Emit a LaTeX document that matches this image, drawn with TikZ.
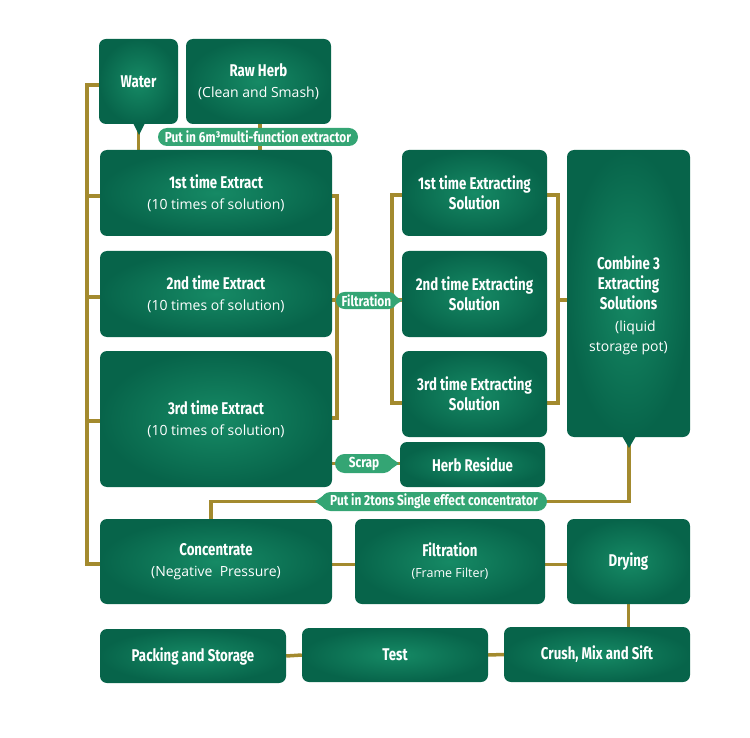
\documentclass[tikz,border=0pt]{standalone}
\usepackage{fontspec}
\setmainfont{Open Sans}
\newfontfamily\condb[FakeStretch=0.78]{Fira Sans}
\newfontfamily\condl[FakeStretch=0.82]{Fira Sans}
\usetikzlibrary{shapes.misc,backgrounds}
\definecolor{gdark}{HTML}{07644A}
\definecolor{glight}{HTML}{168A65}
\definecolor{labg}{HTML}{34A574}
\definecolor{gold}{HTML}{A38A2E}
\newcommand\Ttl{\condb\bfseries\fontsize{17}{20}\selectfont}
\newcommand\Sbt{\mdseries\fontsize{14}{21}\selectfont}
\tikzset{
 box/.style={rounded corners=7pt, inner color=glight, outer color=gdark, text=white, align=center, inner sep=0pt, font=\fontsize{16}{21}\selectfont},
 conn/.style={draw=gold, line width=3.5pt},
 lbl/.style={rounded rectangle, fill=labg, text=white, font=\condl\bfseries\fontsize{14.5}{16}\selectfont, inner sep=0pt, minimum height=18pt},
 tipf/.style={fill=labg},
 ptr/.style={fill=gdark},
}
\begin{document}
\begin{tikzpicture}[x=1pt,y=-1pt]
\useasboundingbox (0,0) rectangle (750,738);
% boxes
\node[box, minimum width=79pt, minimum height=85pt] (water) at (138.5,81.5) {\Ttl Water};
\node[box, minimum width=145pt, minimum height=85pt] (raw) at (258.5,81.5) {\Ttl Raw Herb\\\Sbt (Clean and Smash)};
\node[box, minimum width=232pt, minimum height=86pt] (e1) at (216,193) {\Ttl 1st time Extract\\\Sbt (10 times of solution)};
\node[box, minimum width=232pt, minimum height=86pt] (e2) at (216,294) {\Ttl 2nd time Extract\\\Sbt (10 times of solution)};
\node[box, minimum width=232pt, minimum height=136pt] (e3) at (216,419) {\Ttl 3rd time Extract\\\Sbt (10 times of solution)};
\node[box, minimum width=145pt, minimum height=86pt, font=\fontsize{16}{20}\selectfont] (s1) at (474.5,193) {\Ttl 1st time Extracting\\\Ttl Solution};
\node[box, minimum width=145pt, minimum height=86pt, font=\fontsize{16}{20}\selectfont] (s2) at (474.5,294) {\Ttl 2nd time Extracting\\\Ttl Solution};
\node[box, minimum width=145pt, minimum height=86pt, font=\fontsize{16}{20}\selectfont] (s3) at (474.5,394) {\Ttl 3rd time Extracting\\\Ttl Solution};
\node[box, minimum width=123pt, minimum height=287pt] (comb) at (628.5,293.5) {};
\node[text=white, align=center, inner sep=0pt, font=\fontsize{16}{20}\selectfont] (combt) at (628.5,305) {\Ttl Combine 3\\\Ttl Extracting\\\Ttl Solutions\\[2pt]\Sbt\quad(liquid\\\Sbt storage pot)};
\node[box, minimum width=145pt, minimum height=45pt] (res) at (472.5,464.5) {\Ttl Herb Residue};
\node[box, minimum width=232pt, minimum height=85pt] (conc) at (216,561.5) {\Ttl Concentrate\\\Sbt (Negative~~Pressure)};
\node[box, minimum width=190pt, minimum height=85pt] (filt) at (450,561.5) {\Ttl Filtration\\\Sbt\fontsize{12.5}{18}\selectfont (Frame Filter)};
\node[box, minimum width=123pt, minimum height=85pt] (dry) at (628.5,561.5) {\Ttl Drying};
\node[box, minimum width=186pt, minimum height=54pt] (pack) at (193,656) {\Ttl Packing and Storage};
\node[box, minimum width=186pt, minimum height=54pt] (test) at (395,655) {\Ttl Test};
\node[box, minimum width=186pt, minimum height=55pt] (crush) at (597,654.5) {\Ttl Crush, Mix and Sift};
% pointers
\fill[ptr] (133,123) -- (145,123) -- (139,135) -- cycle;
\fill[ptr] (622,436) -- (636,436) -- (629,448) -- cycle;
% labels
\node[lbl, minimum width=200pt] (put1) at (258,137) {Put in 6m³multi-function extractor};
\fill[tipf] (391,293) -- (402,300.5) -- (391,308) -- cycle;
\node[lbl, minimum width=61pt, minimum height=17pt] (flt) at (366.5,300.5) {Filtration};
\fill[tipf] (387,455) -- (399,463.5) -- (387,472) -- cycle;
\node[lbl, minimum width=58pt, minimum height=19pt] (scrap) at (364,463.5) {Scrap};
\fill[tipf] (327,493) -- (315,501.5) -- (327,510) -- cycle;
\node[lbl, minimum width=226pt, minimum height=19pt] (put2) at (434,501.5) {Put in 2tons Single effect concentrator};
% attachment points
\coordinate (L) at (87,0);
\coordinate (R1) at (337,0);
\coordinate (R2) at (392,0);
\coordinate (R3) at (558,0);
\coordinate (wW) at ([yshift=-3.5pt]water.west);
\coordinate (cW) at ([yshift=-2.5pt]conc.west);
\coordinate (e1W) at ([yshift=-3pt]e1.west);
\coordinate (e2W) at ([yshift=-3pt]e2.west);
\coordinate (e3W) at ([yshift=-2pt]e3.west);
\coordinate (e1E) at ([yshift=-3pt]e1.east);
\coordinate (e3E) at ([yshift=1pt]e3.east);
\coordinate (e2E) at ([yshift=-6pt]e2.east);
\coordinate (s2W) at ([yshift=-6pt]s2.west);
\coordinate (s1W) at ([yshift=-2pt]s1.west);
\coordinate (s3W) at ([yshift=-9pt]s3.west);
\coordinate (s1E) at ([yshift=-2pt]s1.east);
\coordinate (s3E) at ([yshift=-9pt]s3.east);
\begin{scope}[on background layer]
\draw[conn] (wW) -| (L |- cW) -- (cW);
\draw[conn] (e1W) -- (L |- e1W);
\draw[conn] (e2W) -- (L |- e2W);
\draw[conn] (e3W) -- (L |- e3W);
\draw[conn] (water.south) -- (water.south |- e1.north);
\draw[conn] ([xshift=1.5pt]raw.south) -- ([xshift=1.5pt]raw.south |- e1.north);
\draw[conn] (e1E) -| (R1 |- e3E) -- (e3E);
\draw[conn] (e2E) -- (s2W);
\draw[conn] (s1W) -| (R2 |- s3W) -- (s3W);
\draw[conn] (s1E) -| (R3 |- s3E) -- (s3E);
\draw[conn] (R3 |- s2W) -- (comb.west |- s2W);
\draw[conn] (e3.east |- scrap.west) -- (res.west |- scrap.west);
\draw[conn] ([xshift=0.5pt]comb.south) |- (put2.east);
\draw[conn] (put2.west) -| ([xshift=-5pt]conc.north);
\draw[conn] ([yshift=-3pt]conc.east) -- ([yshift=-3pt]filt.west);
\draw[conn] ([yshift=-3pt]filt.east) -- ([yshift=-3pt]dry.west);
\draw[conn] (dry.south) -- (dry.south |- crush.north);
\draw[conn] (crush.west) -- (test.east);
\draw[conn] (test.west) -- (pack.east);
\end{scope}
\end{tikzpicture}
\end{document}
